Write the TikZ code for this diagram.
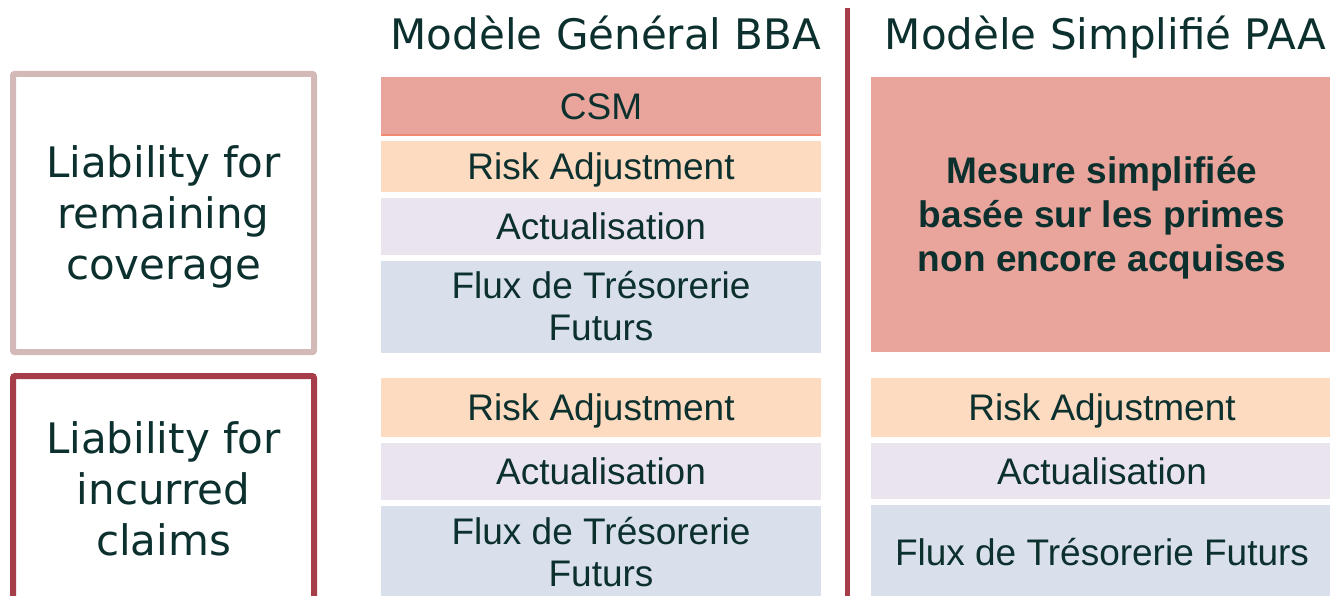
\documentclass[tikz,border=0pt]{standalone}
\usepackage{fontspec}
\newfontfamily\arialfont{Liberation Sans}
\newfontfamily\verdfont{DejaVu Sans}
\definecolor{ink}{HTML}{0C302E}
\definecolor{salmon}{HTML}{E9A59B}
\definecolor{salmonedge}{HTML}{EE8A70}
\definecolor{peach}{HTML}{FDDBC0}
\definecolor{lavender}{HTML}{EAE4EF}
\definecolor{bluegray}{HTML}{D9DFEB}
\definecolor{paleframe}{HTML}{D3BAB8}
\definecolor{wine}{HTML}{A63E4A}
\begin{document}
\begin{tikzpicture}[x=1pt,y=-1pt,
  cell/.style={inner sep=0pt, outer sep=0pt, text=ink, align=center,
    font=\arialfont\fontsize{37}{42}\selectfont,
    text height=26.5pt, text depth=0pt},
  twolines/.style={text height=68.5pt, text depth=0pt},
  bbacell/.style={cell, minimum width=440pt},
  paacell/.style={cell, minimum width=462pt},
  heading/.style={inner sep=0pt, text=ink, font=\verdfont\fontsize{42}{50}\selectfont},
  liability/.style={draw, rounded corners=2pt, line width=6pt, inner sep=0pt,
    minimum width=301pt, text=ink, align=center,
    font=\verdfont\fontsize{42}{51}\selectfont,
    text height=132.6pt, text depth=0pt},
  divider/.style={draw=wine, line width=5pt}]
\clip (0,0) rectangle (1330,596);
\fill[white] (0,0) rectangle (1330,596);

% column headings
\node[heading, anchor=base] (hbba) at (606,50) {Modèle Général BBA};
\node[heading, anchor=base] (hpaa) at (1105.5,50) {Modèle Simplifié PAA};

% liability categories
\node[liability, draw=paleframe, minimum height=278.3pt] (lrc) at (163.5,213)
  {Liability for\\remaining\\coverage};
\node[liability, draw=wine, minimum height=225.4pt] (lic) at (163.5,488.7)
  {Liability for\\incurred\\claims};

% general model (BBA), remaining coverage
\node[bbacell, fill=salmon, minimum height=58pt] (csm) at (601,106) {CSM};
\draw[salmonedge, line width=1.5pt] (csm.south west) -- (csm.south east);
\node[bbacell, fill=peach, minimum height=51pt] (ra1) at (601,166.5) {Risk Adjustment};
\node[bbacell, fill=lavender, minimum height=57pt] (act1) at (601,226.5) {Actualisation};
\node[bbacell, twolines, fill=bluegray, minimum height=92pt] (ff1) at (601,306.5)
  {Flux de Trésorerie\\Futurs};

% general model (BBA), incurred claims
\node[bbacell, fill=peach, minimum height=59pt] (ra2) at (601,407.5) {Risk Adjustment};
\node[bbacell, fill=lavender, minimum height=57pt] (act2) at (601,471.5) {Actualisation};
\node[bbacell, twolines, fill=bluegray, minimum height=92pt] (ff2) at (601,552)
  {Flux de Trésorerie\\Futurs};

% simplified model (PAA)
\node[paacell, fill=salmon, minimum height=275pt, text height=114.5pt,
  font=\arialfont\bfseries\fontsize{37}{44}\selectfont] (paa) at (1102,214.5)
  {Mesure simplifiée\\basée sur les primes\\non encore acquises};
\node[paacell, fill=peach, minimum height=59pt] (ra3) at (1102,407.5) {Risk Adjustment};
\node[paacell, fill=lavender, minimum height=56pt] (act3) at (1102,471) {Actualisation};
\node[paacell, fill=bluegray, minimum height=94pt] (ff3) at (1102,552) {Flux de Trésorerie Futurs};

% separator between the two models
\coordinate (septop) at (847,8);
\coordinate (sepbot) at (847,600);
\draw[divider] (septop) -- (sepbot);
\end{tikzpicture}
\end{document}
